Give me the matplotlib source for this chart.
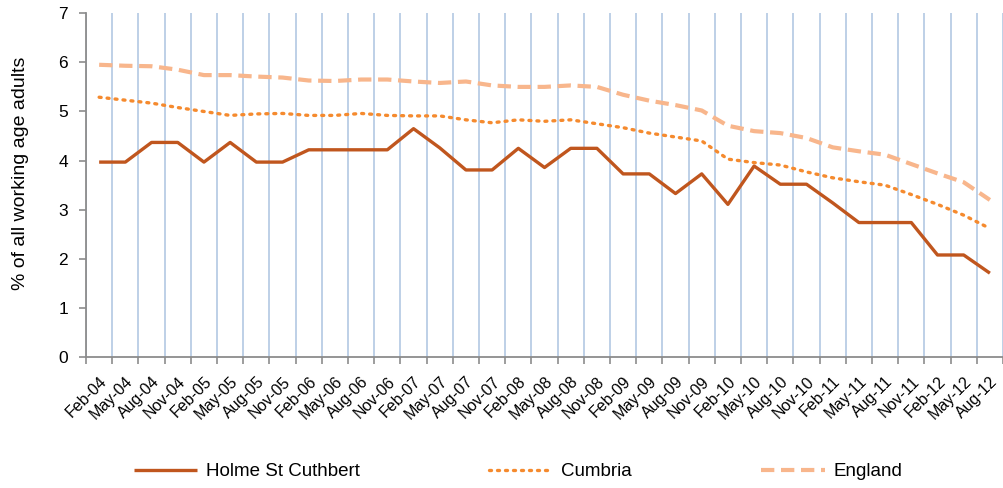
import numpy as np
import matplotlib
matplotlib.use("Agg")
import matplotlib.pyplot as plt

plt.rcParams['font.family'] = ['Liberation Sans', 'DejaVu Sans']

# quarterly labels Feb-04 .. Aug-12
quarters = []
for yr in range(4, 13):
    for m in ['Feb', 'May', 'Aug', 'Nov']:
        quarters.append('%s-%02d' % (m, yr))
quarters = quarters[:35]

holme = [3.97, 3.97, 4.37, 4.37, 3.97, 4.37, 3.97, 3.97, 4.22, 4.22, 4.22, 4.22,
         4.65, 4.26, 3.81, 3.81, 4.25, 3.86, 4.25, 4.25, 3.73, 3.73, 3.33, 3.73,
         3.11, 3.89, 3.52, 3.52, 3.14, 2.74, 2.74, 2.74, 2.08, 2.08, 1.71]
cumbria = [5.29, 5.23, 5.17, 5.08, 5.00, 4.92, 4.95, 4.96, 4.92, 4.92, 4.96, 4.92,
           4.91, 4.91, 4.83, 4.77, 4.83, 4.80, 4.83, 4.75, 4.67, 4.56, 4.48, 4.40,
           4.03, 3.96, 3.91, 3.77, 3.65, 3.57, 3.50, 3.31, 3.11, 2.89, 2.62]
england = [5.95, 5.93, 5.92, 5.85, 5.74, 5.74, 5.71, 5.69, 5.63, 5.62, 5.65, 5.65,
           5.61, 5.58, 5.61, 5.53, 5.50, 5.50, 5.53, 5.50, 5.34, 5.22, 5.13, 5.02,
           4.71, 4.60, 4.56, 4.46, 4.27, 4.19, 4.12, 3.93, 3.74, 3.56, 3.20]

x = np.arange(len(quarters))

fig = plt.figure(figsize=(10.04, 4.88), dpi=100)
ax = fig.add_axes([0.0857, 0.268, 0.9133, 0.705])

ax.plot(x, holme, color='#C0561E', lw=2.4, label='Holme St Cuthbert', solid_capstyle='butt')
ax.plot(x, cumbria, color='#F58A2E', lw=2.4, ls=(0, (0.6, 1.8)), dash_capstyle='round',
        label='Cumbria')
ax.plot(x, england, color='#F8B68C', lw=3.0, ls=(0, (3.2, 1.6)), label='England')

ax.set_xlim(-0.5, len(quarters) - 0.5)
ax.set_ylim(0, 7)
ax.set_yticks(range(8))
ax.set_xticks(x)
ax.set_xticklabels(quarters, rotation=45, ha='right', rotation_mode='anchor', fontsize=11.5)
ax.set_xticks(np.arange(-0.5, len(quarters)), minor=True)
ax.tick_params(axis='x', which='major', length=0, pad=12)
ax.tick_params(axis='x', which='minor', length=5, width=1.2, color='#8C8C8C', direction='out')
ax.tick_params(axis='y', length=5, width=1.2, color='#8C8C8C', labelsize=12.5, pad=8)
ax.grid(True, axis='x', which='minor', color='#B9CDE5', lw=1.3)
ax.set_axisbelow(True)

for s in ['top', 'right']:
    ax.spines[s].set_visible(False)
for s in ['left', 'bottom']:
    ax.spines[s].set_color('#8C8C8C')
    ax.spines[s].set_linewidth(1.3)

fig.text(21 / 1004, 1 - 173 / 488, '% of all working age adults', rotation=90,
         ha='center', va='center', fontsize=14)

fig.legend(loc='center', bbox_to_anchor=(0.516, 0.033), ncol=3, frameon=False,
           fontsize=13.5, handlelength=3.4, columnspacing=6.9, handletextpad=0.45)

fig.savefig('out.png', dpi=100)
